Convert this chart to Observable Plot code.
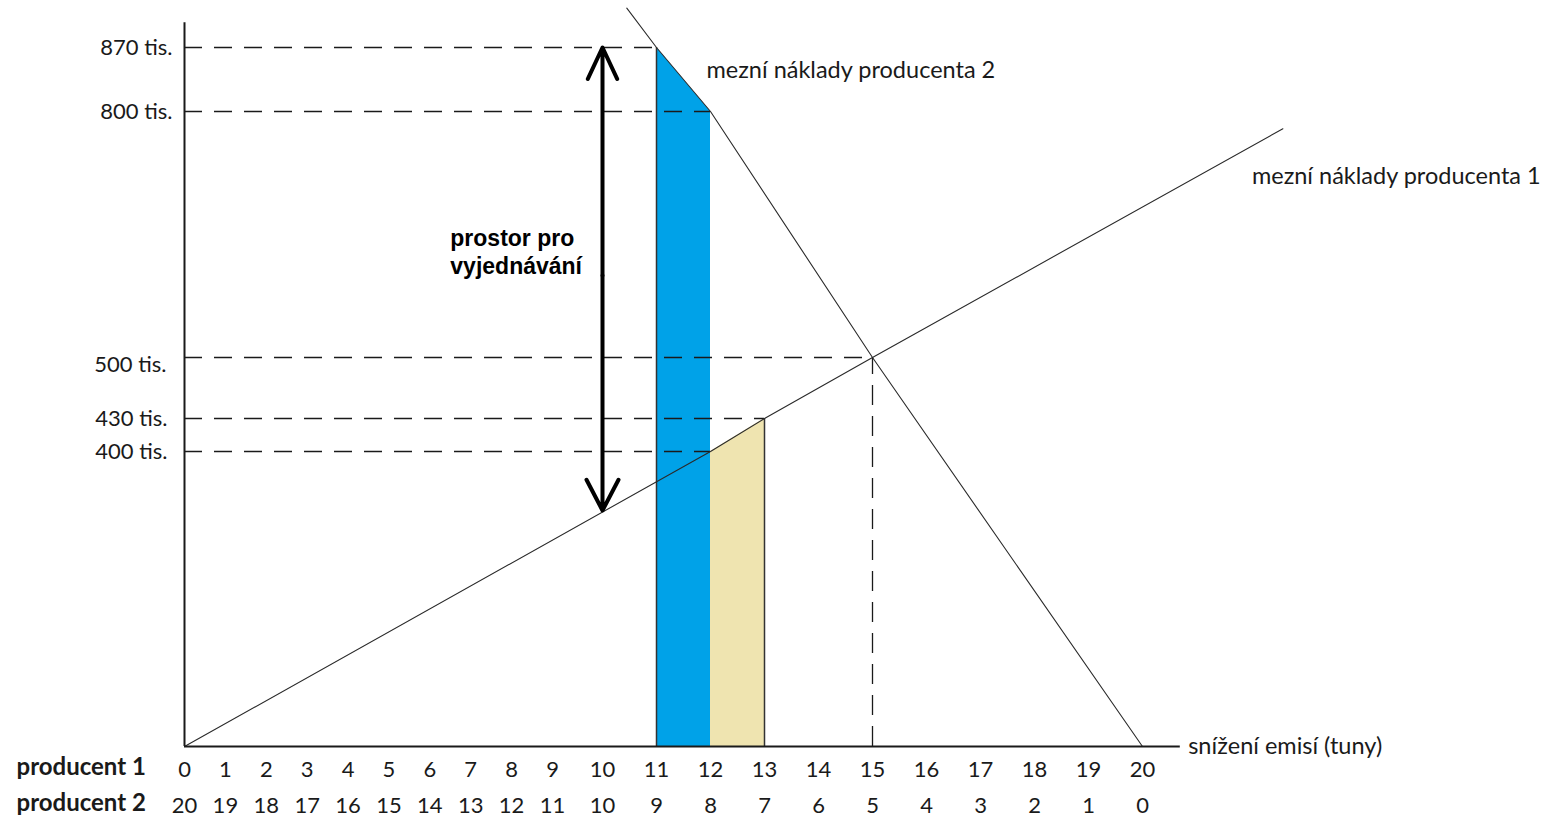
<!DOCTYPE html>
<html>
<head>
<meta charset="utf-8">
<script src="https://cdn.jsdelivr.net/npm/d3@7"></script>
<script src="https://cdn.jsdelivr.net/npm/@observablehq/plot@0.6"></script>
<style>
  html, body { margin: 0; padding: 0; background: #ffffff; }
  #chart svg { display: block; }
</style>
</head>
<body>
<div id="chart"></div>
<script>
// ---- data ----
const producent1Ticks = [0, 1, 2, 3, 4, 5, 6, 7, 8, 9, 10, 11, 12, 13, 14, 15, 16, 17, 18, 19, 20];
const producent2Ticks = [20, 19, 18, 17, 16, 15, 14, 13, 12, 11, 10, 9, 8, 7, 6, 5, 4, 3, 2, 1, 0];
const rowLabels = ["producent 1", "producent 2"];

const levelValues = [870, 800, 500, 430, 400];
const levelLabels = ["870 tis.", "800 tis.", "500 tis.", "430 tis.", "400 tis."];
const levelReach = [11, 12, 15, 13, 12];

// marginal cost curves
const mc1X = [0, 12, 13, 15, 22.6];
const mc1Y = [0, 400, 430, 500, 779];
const mc2X = [10.45, 11, 12, 15, 20];
const mc2Y = [913, 870, 800, 500, 0];

// shaded areas
const blueX = [11, 12];
const blueY = [870, 800];
const tanX = [12, 13];
const tanY = [400, 430];

// equilibrium
const equilibriumX = 15;
const equilibriumY = 500;

// negotiation arrow
const arrowX = 10;
const arrowTop = 870;
const arrowBottom = 320;
const arrowMid = 600;

// axis extents
const xAxisEnd = 20.7;
const yAxisEnd = 897;

// annotations
const annotations = [
  {x: 12, y: 845, text: "mezní náklady producenta 2"},
  {x: 22.1, y: 721, text: "mezní náklady producenta 1"},
  {x: 20.92, y: 0, text: "snížení emisí (tuny)"}
];
const negotiationLabel = {x: 6.55, y: 630, text: "prostor pro\nvyjednávání"};

// ---- build tables ----
const mc1 = mc1X.map((x, i) => ({x, y: mc1Y[i]}));
const mc2 = mc2X.map((x, i) => ({x, y: mc2Y[i]}));
const blue = blueX.map((x, i) => ({x, y: blueY[i]}));
const tan = tanX.map((x, i) => ({x, y: tanY[i]}));
const levels = levelValues.map((v, i) => ({v, label: levelLabels[i], reach: levelReach[i]}));
const upperLevels = levels.filter((d) => d.v > 500);
const midLevel = levels.filter((d) => d.v === 500);
const lowerLevels = levels.filter((d) => d.v < 500);

const ink = "#1a1a1a";
const dash = "18,12";
const font = "Lato, 'Open Sans', sans-serif";

const chart = Plot.plot({
  width: 1549,
  height: 819,
  marginLeft: 0, marginRight: 0, marginTop: 0, marginBottom: 0,
  style: {fontFamily: font, fontSize: "22px", color: ink, background: "#ffffff"},
  x: {type: "linear", domain: [0, 9, 10, 20], range: [184, 552, 602, 1142], axis: null},
  y: {type: "linear", domain: [0, 400, 430, 500, 800, 870], range: [746, 451, 418, 357, 111, 47], axis: null},
  marks: [
    // shaded areas
    Plot.areaY(blue, {x: "x", y1: () => 0, y2: "y", fill: "#00A2E8", curve: "linear"}),
    Plot.areaY(tan, {x: "x", y1: () => 0, y2: "y", fill: "#EFE4B0", curve: "linear"}),
    Plot.ruleX([blueX[0]], {y1: 0, y2: blueY[0], stroke: "#333", strokeWidth: 1.5}),
    Plot.ruleX([tanX[1]], {y1: 0, y2: tanY[1], stroke: "#333", strokeWidth: 1.5}),
    // dashed guide lines
    Plot.ruleY(levels, {y: "v", x1: () => 0, x2: "reach", stroke: ink, strokeWidth: 1.3, strokeDasharray: dash}),
    Plot.ruleX([equilibriumX], {y1: 0, y2: equilibriumY, stroke: ink, strokeWidth: 1.3, strokeDasharray: "20,11"}),
    // marginal cost curves
    Plot.line(mc1, {x: "x", y: "y", stroke: "#2a2a2a", strokeWidth: 1.1}),
    Plot.line(mc2, {x: "x", y: "y", stroke: "#2a2a2a", strokeWidth: 1.1}),
    // axes
    Plot.ruleX([0], {y1: 0, y2: yAxisEnd, stroke: ink, strokeWidth: 2}),
    Plot.ruleY([0], {x1: 0, x2: xAxisEnd, stroke: ink, strokeWidth: 2}),
    // negotiation arrow (double headed)
    Plot.arrow([0], {x1: arrowX, x2: arrowX, y1: arrowMid, y2: arrowTop, stroke: "#000", strokeWidth: 4, headLength: 13, headAngle: 50}),
    Plot.arrow([0], {x1: arrowX, x2: arrowX, y1: arrowMid, y2: arrowBottom, stroke: "#000", strokeWidth: 4, headLength: 13, headAngle: 55}),
    // y labels
    Plot.text(upperLevels, {x: () => 0, y: "v", text: "label", textAnchor: "end", dx: -12, fill: ink, fontSize: 22}),
    Plot.text(midLevel, {x: () => 0, y: "v", text: "label", textAnchor: "end", dx: -18, dy: 7, fill: ink, fontSize: 22}),
    Plot.text(lowerLevels, {x: () => 0, y: "v", text: "label", textAnchor: "end", dx: -17, fill: ink, fontSize: 22}),
    // x tick labels
    Plot.text(producent1Ticks, {x: (d) => d, y: () => 0, text: (d) => String(d), dy: 23, fill: ink, fontSize: 22}),
    Plot.text(producent2Ticks, {x: (d, i) => producent1Ticks[i], y: () => 0, text: (d) => String(d), dy: 59, fill: ink, fontSize: 22}),
    Plot.text([rowLabels[0]], {frameAnchor: "bottom-left", dx: 16, dy: -45, textAnchor: "start", fontWeight: "bold", fill: ink, fontSize: 24}),
    Plot.text([rowLabels[1]], {frameAnchor: "bottom-left", dx: 16, dy: -9, textAnchor: "start", fontWeight: "bold", fill: ink, fontSize: 24}),
    // annotations
    Plot.text(annotations, {x: "x", y: "y", text: "text", textAnchor: "start", dx: -4, fill: ink, fontSize: 23.5}),
    Plot.text([negotiationLabel], {x: "x", y: "y", text: "text", textAnchor: "start", dx: -2, lineHeight: 1.22, fontFamily: "'Liberation Sans', Arial, sans-serif", fontWeight: "bold", fontSize: 23, fill: "#000"})
  ]
});
document.getElementById("chart").append(chart);
</script>
</body>
</html>
